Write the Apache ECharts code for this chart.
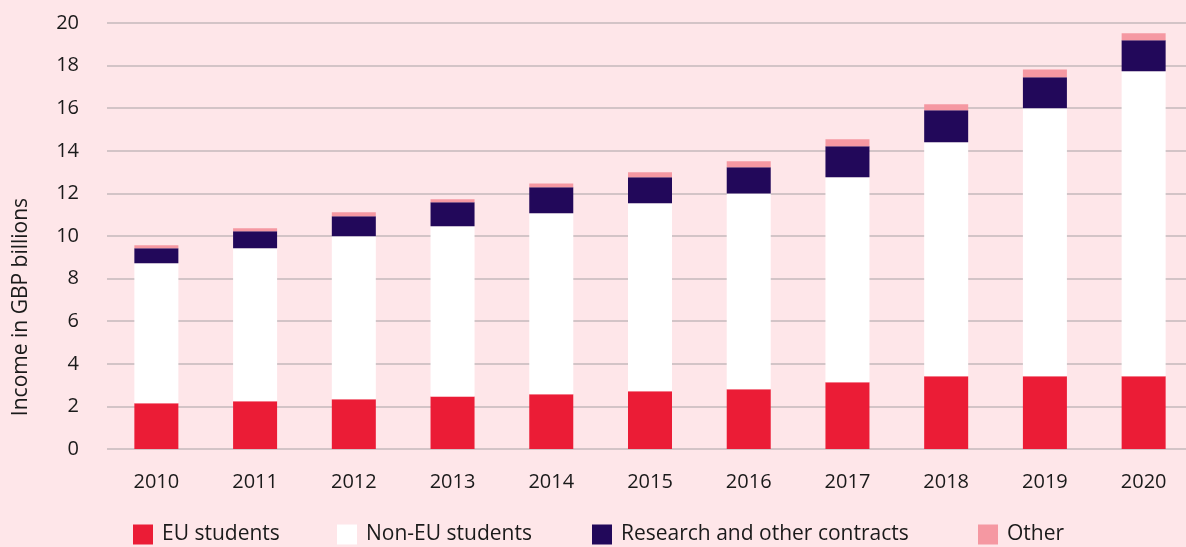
<!DOCTYPE html>
<html>
<head>
<meta charset="utf-8">
<script src="https://cdn.jsdelivr.net/npm/echarts@6/dist/echarts.min.js"></script>
<style>
html,body{margin:0;padding:0;background:#fee6e9;overflow:hidden;}
#chart{width:1193px;height:547px;}
</style>
</head>
<body>
<div id="chart"></div>
<script>
const years = ['2010','2011','2012','2013','2014','2015','2016','2017','2018','2019','2020'];
const euStudents = [2.15,2.24,2.33,2.47,2.57,2.71,2.80,3.13,3.41,3.41,3.41];
const nonEuStudents = [6.57,7.18,7.66,7.99,8.50,8.83,9.20,9.63,10.99,12.59,14.32];
const research = [0.70,0.80,0.94,1.12,1.22,1.22,1.23,1.45,1.50,1.45,1.46];
const other = [0.14,0.14,0.18,0.14,0.18,0.23,0.28,0.33,0.28,0.37,0.33];
const yTicks = {min:0, max:20, interval:2};
const seriesNames = ['EU students','Non-EU students','Research and other contracts','Other'];

const chart = echarts.init(document.getElementById('chart'));
const font = '"Open Sans", "Noto Sans", sans-serif';
function bar(name, data, color){
  return {name, type:'bar', stack:'total', data, barWidth:44,
    itemStyle:{color}, emphasis:{disabled:true}};
}
const legendLefts = [133, 337, 592, 978];
const legends = seriesNames.map((n,i)=>({
  left:legendLefts[i], top:524, itemWidth:20, itemHeight:20, icon:'rect',
  padding:0, selectedMode:false,
  textStyle:{fontFamily:font, fontSize:21, color:'#1a1a1a', padding:[0,0,0,4]},
  data:[n]
}));
chart.setOption({
  backgroundColor:'#fee6e9',
  animation:false,
  grid:{left:107, right:0, top:23, bottom:98},
  legend:legends,
  graphic:[{type:'text', x:21, y:307, rotation:Math.PI/2,
    style:{text:'Income in GBP billions', fontFamily:font, fontSize:21, fill:'#1a1a1a',
      align:'center', verticalAlign:'middle'}}],
  xAxis:{type:'category', data:years,
    axisLine:{show:false}, axisTick:{show:false},
    axisLabel:{fontFamily:font, fontSize:20, color:'#1a1a1a', margin:23}},
  yAxis:{type:'value', min:yTicks.min, max:yTicks.max, interval:yTicks.interval,
    axisLine:{show:false}, axisTick:{show:false},
    axisLabel:{fontFamily:font, fontSize:20, color:'#1a1a1a', margin:28},
    splitLine:{lineStyle:{color:'#c4b9bb', width:1.5}}},
  series:[
    bar(seriesNames[0], euStudents, '#eb1c36'),
    bar(seriesNames[1], nonEuStudents, '#ffffff'),
    bar(seriesNames[2], research, '#22085a'),
    bar(seriesNames[3], other, '#f598a2')
  ]
});
</script>
</body>
</html>
